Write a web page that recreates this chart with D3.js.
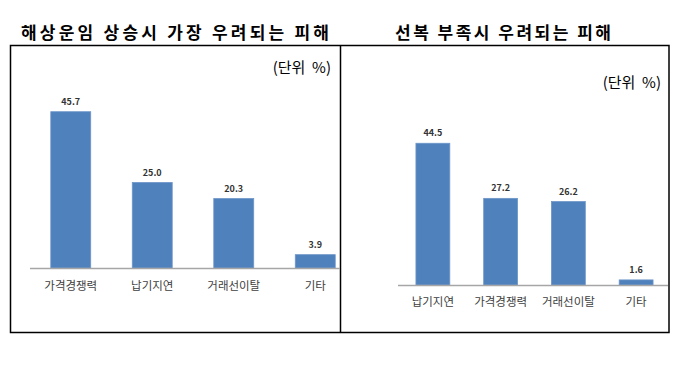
<!DOCTYPE html>
<html>
<head>
<meta charset="utf-8">
<script src="https://cdn.jsdelivr.net/npm/d3@7"></script>
<style>
  body { margin: 0; background: #fff; }
  text { font-family: "Noto Sans CJK KR", "Noto Sans", sans-serif; }
</style>
</head>
<body>
<script>
'use strict'

// left panel
const leftTitle = '해상운임 상승시 가장 우려되는 피해'
const leftCats = ['가격경쟁력', '납기지연', '거래선이탈', '기타']
const leftVals = [45.7, 25.0, 20.3, 3.9]

// right panel
const rightTitle = '선복 부족시 우려되는 피해'
const rightCats = ['납기지연', '가격경쟁력', '거래선이탈', '기타']
const rightVals = [44.5, 27.2, 26.2, 1.6]

const unitLabel = '(단위  %)'

const W = 680, H = 370

const svg = d3.select('body').append('svg')
  .attr('width', W)
  .attr('height', H)

// titles
svg.append('text')
  .attr('x', 175).attr('y', 39)
  .attr('text-anchor', 'middle')
  .attr('font-size', 17).attr('font-weight', 'bold')
  .attr('textLength', 308).attr('lengthAdjust', 'spacing')
  .attr('fill', '#000')
  .text(leftTitle)

svg.append('text')
  .attr('x', 503).attr('y', 39)
  .attr('text-anchor', 'middle')
  .attr('font-size', 17).attr('font-weight', 'bold')
  .attr('textLength', 216).attr('lengthAdjust', 'spacing')
  .attr('fill', '#000')
  .text(rightTitle)

// frame
const frame = svg.append('g')
  .attr('fill', 'none').attr('stroke', '#000').attr('stroke-width', 1.5)
frame.append('rect').attr('x', 10.5).attr('y', 45.5).attr('width', 658.5).attr('height', 287)
frame.append('line').attr('x1', 340.5).attr('x2', 340.5).attr('y1', 45.5).attr('y2', 332.5)

function panel(cats, vals, opt) {
  const g = svg.append('g')

  const x = d3.scaleBand()
    .domain(cats)
    .range(opt.xr)
    .paddingInner(opt.pad)
    .paddingOuter(opt.pad / 2)

  const y = d3.scaleLinear()
    .domain([0, 50])
    .range([opt.base, opt.base - opt.pxPerUnit * 50])

  g.selectAll('rect.bar')
    .data(vals)
    .enter()
    .append('rect')
    .attr('class', 'bar')
    .attr('x', (d, i) => x(cats[i]))
    .attr('y', d => y(d))
    .attr('width', x.bandwidth())
    .attr('height', d => y(0) - y(d))
    .attr('fill', '#4f81bd')
    .attr('stroke', '#6d95c8')
    .attr('stroke-width', 0.8)

  // baseline
  g.append('line')
    .attr('x1', opt.lineX[0]).attr('x2', opt.lineX[1])
    .attr('y1', y(0) + 0.5).attr('y2', y(0) + 0.5)
    .attr('stroke', '#a6a6a6').attr('stroke-width', 1.5)

  g.selectAll('text.val')
    .data(vals)
    .enter()
    .append('text')
    .attr('class', 'val')
    .attr('x', (d, i) => x(cats[i]) + x.bandwidth() / 2)
    .attr('y', d => y(d) - 7)
    .attr('text-anchor', 'middle')
    .attr('font-size', 9).attr('font-weight', 'bold')
    .attr('font-family', 'Liberation Sans, sans-serif')
    .attr('fill', '#333')
    .text(d => d.toFixed(1))

  g.selectAll('text.cat')
    .data(cats)
    .enter()
    .append('text')
    .attr('class', 'cat')
    .attr('x', d => x(d) + x.bandwidth() / 2)
    .attr('y', y(0) + opt.catDy)
    .attr('text-anchor', 'middle')
    .attr('font-size', 11.5)
    .attr('fill', '#404040')
    .text(d => d)

  svg.append('text')
    .attr('x', opt.unit[0]).attr('y', opt.unit[1])
    .attr('text-anchor', 'end')
    .attr('font-size', 15)
    .style('white-space', 'pre')
    .attr('fill', '#000')
    .text(unitLabel)
}

panel(leftCats, leftVals, {
  xr: [30, 356], pad: 0.51, base: 268, pxPerUnit: 3.42,
  lineX: [30, 340], catDy: 22, unit: [331, 73]
})

panel(rightCats, rightVals, {
  xr: [399, 670], pad: 0.5, base: 285, pxPerUnit: 3.185,
  lineX: [398, 668], catDy: 21, unit: [661, 88]
})
</script>
</body>
</html>
